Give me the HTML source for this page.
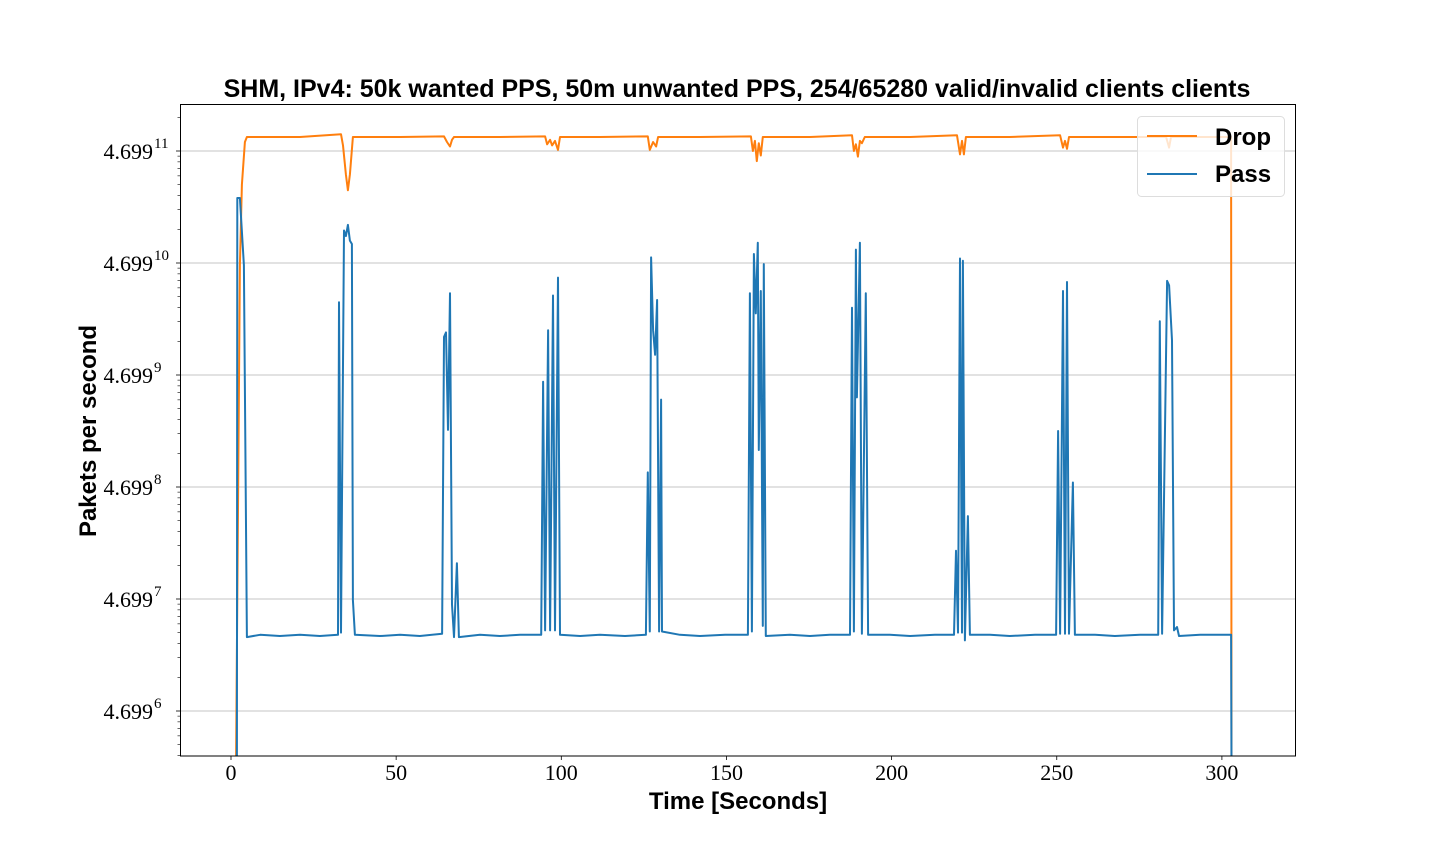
<!DOCTYPE html>
<html><head><meta charset="utf-8"><style>
html,body{margin:0;padding:0;background:#fff;width:1440px;height:864px;overflow:hidden}
svg{display:block}
</style></head><body>
<svg id="chart" width="1440" height="864" xmlns="http://www.w3.org/2000/svg">
<defs><clipPath id="plotclip"><rect x="180" y="104" width="1116" height="652"/></clipPath></defs>
<rect x="0" y="0" width="1440" height="864" fill="#fff"/>
<g id="grid"></g>
<g id="series" clip-path="url(#plotclip)"></g>
<rect x="180.5" y="104.5" width="1115" height="651.5" fill="none" stroke="#000" stroke-width="1"/>
<g id="axes"></g>
<text x="737" y="97" text-anchor="middle" font-family="'Liberation Sans',sans-serif" font-weight="bold" font-size="25">SHM, IPv4: 50k wanted PPS, 50m unwanted PPS, 254/65280 valid/invalid clients clients</text>
<text x="738" y="809" text-anchor="middle" font-family="'Liberation Sans',sans-serif" font-weight="bold" font-size="24">Time [Seconds]</text>
<text transform="translate(96,431) rotate(-90)" text-anchor="middle" font-family="'Liberation Sans',sans-serif" font-weight="bold" font-size="24">Pakets per second</text>
<g>
<rect x="1137.5" y="116.5" width="147" height="80" rx="4" fill="#fff" fill-opacity="0.8" stroke="#ddd"/>
<line x1="1147" y1="136" x2="1197" y2="136" stroke="#ff7f0e" stroke-width="2"/>
<text x="1215" y="145" font-family="'Liberation Sans',sans-serif" font-weight="bold" font-size="24">Drop</text>
<line x1="1147" y1="174" x2="1197" y2="174" stroke="#1f77b4" stroke-width="2"/>
<text x="1215" y="182" font-family="'Liberation Sans',sans-serif" font-weight="bold" font-size="24">Pass</text>
</g>
</svg>
<script>
const xTicks=[0,50,100,150,200,250,300];
const yTickExps=[6,7,8,9,10,11];
const passT=[1.8,1.9,2.7,3.9,4.8,8.8,14.8,20.9,26.9,32.4,32.7,33.3,34.2,34.8,35.4,36.0,36.6,36.9,37.5,45.1,51.2,57.2,63.9,64.5,65.1,65.7,66.3,66.9,67.5,68.4,69.0,75.4,81.4,87.5,93.9,94.5,95.1,96.0,96.6,97.5,98.1,99.0,99.6,105.7,111.7,119.3,125.6,126.2,126.8,127.2,127.8,128.4,129.0,129.6,130.2,130.5,135.9,142.0,149.6,156.5,157.1,157.7,158.3,158.9,159.5,159.8,160.4,161.0,161.3,161.9,169.2,175.3,181.3,187.4,188.0,188.6,189.2,189.5,190.4,191.0,192.2,192.9,199.5,205.6,213.1,218.9,219.5,220.1,220.7,221.3,221.6,222.2,223.1,223.7,229.8,235.8,243.4,249.8,250.4,251.0,251.9,252.5,253.1,253.7,254.9,255.5,261.6,267.6,275.2,280.7,281.2,281.9,283.4,284.0,284.9,285.5,286.4,287.0,293.4,302.8,302.9];
const passExp=[5.5,10.58,10.58,9.98,6.66,6.68,6.67,6.68,6.67,6.68,9.65,6.70,10.29,10.24,10.34,10.20,10.17,6.99,6.68,6.67,6.68,6.67,6.69,9.34,9.38,8.51,9.73,6.95,6.66,7.32,6.66,6.68,6.67,6.68,6.68,8.94,6.72,9.40,6.72,9.71,6.72,9.87,6.68,6.67,6.68,6.67,6.68,8.13,6.71,10.05,9.40,9.18,9.67,6.71,8.78,6.71,6.68,6.67,6.68,6.68,9.73,6.71,10.08,9.55,10.18,8.33,9.75,6.76,9.99,6.67,6.68,6.67,6.68,6.68,9.60,6.71,10.12,8.80,10.18,6.69,9.73,6.68,6.68,6.67,6.68,6.68,7.43,6.70,10.04,6.70,10.02,6.63,7.74,6.68,6.68,6.67,6.68,6.68,8.50,6.69,9.75,6.69,9.83,6.69,8.04,6.68,6.68,6.67,6.68,6.68,9.48,6.69,9.84,9.80,9.31,6.72,6.75,6.67,6.68,6.68,5.5];
const dropT=[1.5,2.7,3.3,4.2,4.8,20.9,33.3,33.9,34.8,35.4,36.0,36.9,51.2,64.5,65.4,66.3,66.9,67.5,81.4,95.1,95.7,96.6,97.2,98.1,99.0,99.6,111.7,126.2,126.8,127.8,128.7,129.3,142.0,157.4,158.0,158.6,159.2,159.8,160.4,161.0,175.3,188.0,188.6,189.2,189.8,190.4,191.0,191.9,205.6,219.8,220.7,221.3,221.9,222.5,235.8,251.0,251.9,252.5,253.1,253.7,266.1,283.1,284.0,284.6,302.8,302.9];
const dropExp=[5.5,9.98,10.70,11.08,11.125,11.125,11.15,11.05,10.79,10.65,10.79,11.125,11.125,11.13,11.08,11.04,11.10,11.125,11.125,11.13,11.06,11.10,11.05,11.09,11.01,11.125,11.125,11.13,11.01,11.08,11.04,11.125,11.125,11.13,11.0,11.09,10.91,11.07,10.96,11.125,11.125,11.14,11.0,11.06,10.95,11.09,11.07,11.125,11.125,11.14,10.97,11.09,10.97,11.125,11.125,11.14,11.03,11.09,11.02,11.125,11.125,11.125,11.03,11.125,11.125,5.5];

const NS='http://www.w3.org/2000/svg';
const X0=231, XS=3.303;
const Y6=711, YS=112;
function xScale(t){return X0+t*XS;}
function yScale(e){return Y6-(e-6)*YS;}
function mk(tag,attrs,parent){const el=document.createElementNS(NS,tag);for(const k in attrs)el.setAttribute(k,attrs[k]);parent.appendChild(el);return el;}

const grid=document.getElementById('grid'),axes=document.getElementById('axes'),series=document.getElementById('series');
yTickExps.forEach(e=>{
  const y=yScale(e);
  const gl=mk('line',{x1:180,x2:1296,y1:y,y2:y,stroke:'#b0b0b0','stroke-width':0.8},grid);
  
  
  const tk=mk('line',{x1:176,x2:180,y1:y,y2:y,stroke:'#000','stroke-width':0.8},axes);
  
  
  const tx=mk('text',{x:153,y:y+8,'text-anchor':'end','font-family':"'Liberation Serif',serif",'font-size':22},axes);
  
  
  tx.textContent='4.699';
  const sp=mk('text',{x:154,y:y-3,'font-family':"'Liberation Serif',serif",'font-size':15},axes);
  
  
  sp.textContent=String(e);
});
for(let e=5;e<=11;e++){for(let k=2;k<=9;k++){
  const v=e+Math.log10(k);
  if(v<5.598||v>11.42)continue;
  const y=yScale(v);
  const m=mk('line',{x1:177.5,x2:180,y1:y,y2:y,stroke:'#000','stroke-width':0.6},axes);
  
  
}}
xTicks.forEach(t=>{
  const x=xScale(t);
  const tk=mk('line',{x1:x,x2:x,y1:756,y2:760,stroke:'#000','stroke-width':0.8},axes);
  
  
  const tx=mk('text',{x:x,y:780,'text-anchor':'middle','font-family':"'Liberation Serif',serif",'font-size':22},axes);
  
  
  tx.textContent=String(t);
});
function line(ts,es,color,name){
  const d=ts.map((t,i)=>(i?'L':'M')+xScale(t).toFixed(1)+','+yScale(es[i]).toFixed(1)).join('');
  const p=mk('path',{d:d,fill:'none',stroke:color,'stroke-width':2,'stroke-linejoin':'round'},series);
  
  
}
line(dropT,dropExp,'#ff7f0e','drop-line');
line(passT,passExp,'#1f77b4','pass-line');
</script>
</body></html>
